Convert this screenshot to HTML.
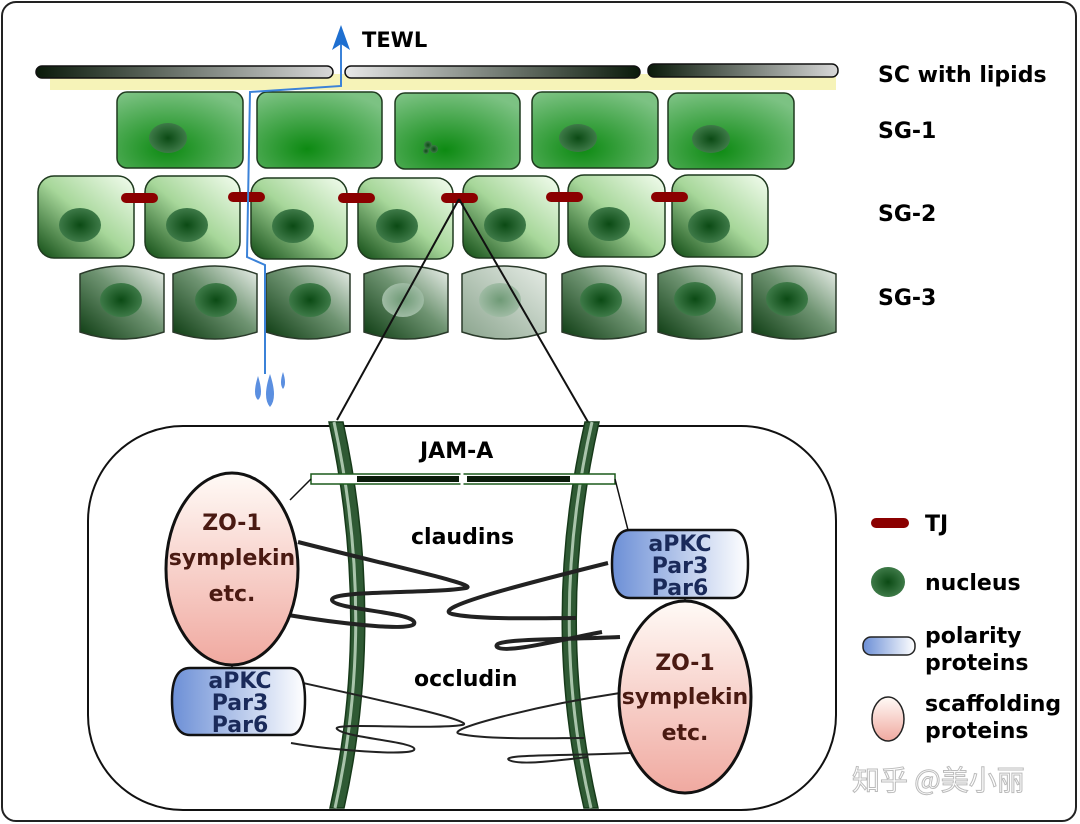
<!DOCTYPE html>
<html><head><meta charset="utf-8"><style>
html,body{margin:0;padding:0;background:#fff;}
svg{display:block;}
text{font-family:"DejaVu Sans","Liberation Sans",sans-serif;font-weight:bold;}
</style></head><body>
<svg width="1080" height="824" viewBox="0 0 1080 824" xmlns="http://www.w3.org/2000/svg">
<defs>
<linearGradient id="sc1" x1="0" x2="1"><stop offset="0" stop-color="#0a1a0a"/><stop offset="1" stop-color="#d8d8d8"/></linearGradient>
<linearGradient id="sc2" x1="0" x2="1"><stop offset="0" stop-color="#e8e8e8"/><stop offset="1" stop-color="#0a1a0a"/></linearGradient>
<radialGradient id="g1" cx="0.4" cy="0.75" r="0.8"><stop offset="0" stop-color="#0d8a12"/><stop offset="1" stop-color="#7cc283"/></radialGradient>
<linearGradient id="g2" x1="0" y1="1" x2="1" y2="0"><stop offset="0" stop-color="#0e4a12"/><stop offset="0.5" stop-color="#a7d79a"/><stop offset="1" stop-color="#f4fdf0"/></linearGradient>
<linearGradient id="g3" x1="0" y1="1" x2="1" y2="0"><stop offset="0" stop-color="#0b3a10"/><stop offset="0.55" stop-color="#6f9472"/><stop offset="1" stop-color="#eef2ee"/></linearGradient>
<linearGradient id="g3f" x1="0" y1="1" x2="1" y2="0"><stop offset="0" stop-color="#8aa48d"/><stop offset="1" stop-color="#e6ece6"/></linearGradient>
<radialGradient id="nuc"><stop offset="0" stop-color="#0b4a14"/><stop offset="1" stop-color="#3e7a48"/></radialGradient>
<radialGradient id="nucf"><stop offset="0" stop-color="#6f9a76"/><stop offset="1" stop-color="#9fbba4"/></radialGradient>
<linearGradient id="pol" x1="0" x2="1"><stop offset="0" stop-color="#6c8fd6"/><stop offset="1" stop-color="#ffffff"/></linearGradient>
<linearGradient id="scf" x1="0" y1="0" x2="0" y2="1"><stop offset="0" stop-color="#fffaf6"/><stop offset="1" stop-color="#f0a9a0"/></linearGradient>
</defs>
<rect x="2" y="2" width="1074" height="819" rx="14" fill="#fff" stroke="#222" stroke-width="2"/>

<!-- SC -->
<rect x="50" y="74" width="786" height="16" fill="#f6f3b8"/>
<rect x="36" y="66" width="297" height="12" rx="6" fill="url(#sc1)" stroke="#111" stroke-width="1.5"/>
<rect x="345" y="66" width="295" height="12" rx="6" fill="url(#sc2)" stroke="#111" stroke-width="1.5"/>
<rect x="648" y="64" width="190" height="13" rx="6" fill="url(#sc1)" stroke="#111" stroke-width="1.5"/>

<!-- SG-1 -->
<g stroke="#1f3a1f" stroke-width="1.5" fill="url(#g1)">
<rect x="117" y="92" width="126" height="76" rx="10"/>
<rect x="257" y="92" width="125" height="76" rx="10"/>
<rect x="395" y="93" width="125" height="76" rx="10"/>
<rect x="532" y="92" width="126" height="76" rx="10"/>
<rect x="668" y="93" width="126" height="76" rx="10"/>
</g>
<g fill="url(#nuc)">
<ellipse cx="168" cy="138" rx="19" ry="15"/>
<ellipse cx="578" cy="138" rx="19" ry="14"/>
<ellipse cx="711" cy="139" rx="19" ry="14"/>
<circle cx="428" cy="145" r="4"/><circle cx="434" cy="149" r="4"/><circle cx="426" cy="151" r="3"/>
</g>

<!-- SG-2 -->
<g stroke="#1f3a1f" stroke-width="1.5" fill="url(#g2)">
<rect x="38" y="176" width="96" height="82" rx="16"/>
<rect x="145" y="176" width="95" height="82" rx="16"/>
<rect x="251" y="178" width="96" height="81" rx="16"/>
<rect x="358" y="178" width="95" height="81" rx="16"/>
<rect x="463" y="176" width="96" height="82" rx="16"/>
<rect x="568" y="175" width="97" height="82" rx="16"/>
<rect x="672" y="175" width="96" height="82" rx="16"/>
</g>
<g fill="url(#nuc)">
<ellipse cx="80" cy="225" rx="21" ry="17"/><ellipse cx="187" cy="225" rx="21" ry="17"/>
<ellipse cx="293" cy="226" rx="21" ry="17"/><ellipse cx="397" cy="226" rx="21" ry="17"/>
<ellipse cx="505" cy="225" rx="21" ry="17"/><ellipse cx="609" cy="224" rx="21" ry="17"/>
<ellipse cx="709" cy="226" rx="21" ry="17"/>
</g>
<g stroke="#8b0000" stroke-width="10" stroke-linecap="round">
<line x1="126" y1="198" x2="153" y2="198"/><line x1="233" y1="197" x2="260" y2="197"/>
<line x1="343" y1="198" x2="370" y2="198"/><line x1="446" y1="198" x2="473" y2="198"/>
<line x1="551" y1="197" x2="578" y2="197"/><line x1="656" y1="197" x2="683" y2="197"/>
</g>

<!-- SG-3 -->
<g stroke="#2a3a2a" stroke-width="1.5">
<path d="M80 274 Q122 258 164 274 L164 332 Q122 346 80 332 Z" fill="url(#g3)"/>
<path d="M173 274 Q215 258 257 274 L257 332 Q215 346 173 332 Z" fill="url(#g3)"/>
<path d="M266 274 Q308 258 350 274 L350 332 Q308 346 266 332 Z" fill="url(#g3)"/>
<path d="M364 274 Q406 258 448 274 L448 332 Q406 346 364 332 Z" fill="url(#g3)"/>
<path d="M462 274 Q504 258 546 274 L546 332 Q504 346 462 332 Z" fill="url(#g3f)"/>
<path d="M562 274 Q604 258 646 274 L646 332 Q604 346 562 332 Z" fill="url(#g3)"/>
<path d="M658 274 Q700 258 742 274 L742 332 Q700 346 658 332 Z" fill="url(#g3)"/>
<path d="M752 274 Q794 258 836 274 L836 332 Q794 346 752 332 Z" fill="url(#g3)"/>
</g>
<g fill="url(#nuc)">
<ellipse cx="121" cy="300" rx="21" ry="17"/><ellipse cx="216" cy="300" rx="21" ry="17"/>
<ellipse cx="310" cy="300" rx="21" ry="17"/><ellipse cx="601" cy="300" rx="21" ry="17"/>
<ellipse cx="695" cy="299" rx="21" ry="17"/><ellipse cx="787" cy="299" rx="21" ry="17"/>
</g>
<ellipse cx="403" cy="300" rx="21" ry="17" fill="url(#nucf)"/>
<ellipse cx="500" cy="300" rx="21" ry="17" fill="url(#nucf)"/>

<!-- zoom lines -->
<line x1="459" y1="199" x2="337" y2="420" stroke="#111" stroke-width="2"/>
<line x1="459" y1="199" x2="588" y2="422" stroke="#111" stroke-width="2"/>

<!-- TEWL path -->
<polyline points="265,374 265,265 247,257 250,92 341,86 341,44" fill="none" stroke="#3b82d8" stroke-width="2"/>
<polygon points="341,25 332,50 341,44 350,50" fill="#1e6fd0"/>
<g fill="#5b8fe0">
<path d="M258 376 Q264 395 258 400 Q252 395 258 376Z"/>
<path d="M270 374 Q278 398 270 407 Q262 398 270 374Z"/>
<path d="M283 372 Q287 384 283 389 Q279 384 283 372Z"/>
</g>
<text x="362" y="47" font-size="21">TEWL</text>

<!-- right labels -->
<text x="878" y="82" font-size="22">SC with lipids</text>
<text x="878" y="138" font-size="22">SG-1</text>
<text x="878" y="221" font-size="22">SG-2</text>
<text x="878" y="305" font-size="22">SG-3</text>

<!-- bottom cell -->
<rect x="88" y="426" width="748" height="384" rx="95" fill="#fff" stroke="#111" stroke-width="2"/>

<!-- membranes -->
<path d="M329 422 Q372 620 330 808 L344 808 Q386 620 343 422 Z" fill="#2f5a34" stroke="#173a1a" stroke-width="1.5"/>
<path d="M334 422 Q377 620 335 808" fill="none" stroke="#a9c4ab" stroke-width="3"/>
<path d="M585 422 Q540 620 584 808 L598 808 Q554 620 599 422 Z" fill="#2f5a34" stroke="#173a1a" stroke-width="1.5"/>
<path d="M592 422 Q547 620 591 808" fill="none" stroke="#a9c4ab" stroke-width="3"/>

<!-- JAM-A -->
<rect x="311" y="474" width="304" height="10" fill="#fff" stroke="#1c5a1c" stroke-width="1.5"/>
<rect x="357" y="476" width="102" height="6" fill="#0a1a0a"/>
<rect x="467" y="476" width="103" height="6" fill="#0a1a0a"/>
<line x1="462" y1="472" x2="462" y2="486" stroke="#fff" stroke-width="3"/>
<text x="420" y="458" font-size="22">JAM-A</text>
<text x="411" y="544" font-size="22">claudins</text>
<text x="414" y="686" font-size="22">occludin</text>

<!-- claudin/occludin loops -->
<g fill="none" stroke="#222" stroke-width="4">
<path d="M298 542 C400 568 480 585 466 588 C430 594 330 590 332 600 C334 610 420 612 414 624 C408 632 330 622 288 615"/>
<path d="M608 563 C520 585 430 608 452 614 C480 620 540 618 576 618"/>
<path d="M620 637 C560 640 490 638 497 647 C505 654 560 640 602 632"/>
</g>
<g fill="none" stroke="#222" stroke-width="2">
<path d="M303 683 C380 700 480 722 462 725 C430 730 330 722 337 729 C345 738 420 742 414 750 C408 756 330 750 291 743"/>
<path d="M620 693 C540 705 440 730 460 734 C490 740 550 738 584 738"/>
<path d="M630 753 C570 756 500 754 509 760 C520 766 560 760 588 757"/>
</g>

<!-- connectors -->
<g stroke="#111" stroke-width="1.5">
<line x1="311" y1="479" x2="290" y2="500"/>
<line x1="615" y1="479" x2="628" y2="530"/>
<line x1="232" y1="660" x2="232" y2="668"/>
<line x1="685" y1="598" x2="685" y2="612"/>
</g>

<!-- scaffold ellipses -->
<ellipse cx="232" cy="569" rx="66" ry="96" fill="url(#scf)" stroke="#111" stroke-width="3"/>
<ellipse cx="685" cy="697" rx="66" ry="96" fill="url(#scf)" stroke="#111" stroke-width="3"/>
<g fill="#4a1a12" font-size="22" text-anchor="middle">
<text x="232" y="530">ZO-1</text><text x="232" y="565">symplekin</text><text x="232" y="601">etc.</text>
<text x="685" y="670">ZO-1</text><text x="685" y="704">symplekin</text><text x="685" y="740">etc.</text>
</g>

<!-- polarity boxes -->
<path d="M190 668 L290 668 Q305 668 305 700 Q305 735 290 735 L190 735 Q172 735 172 700 Q172 668 190 668Z" fill="url(#pol)" stroke="#111" stroke-width="2.5"/>
<path d="M630 530 L732 530 Q748 530 748 564 Q748 598 732 598 L630 598 Q612 598 612 564 Q612 530 630 530Z" fill="url(#pol)" stroke="#111" stroke-width="2.5"/>
<g fill="#1a2a5a" font-size="22" text-anchor="middle">
<text x="240" y="688">aPKC</text><text x="240" y="710">Par3</text><text x="240" y="732">Par6</text>
<text x="680" y="551">aPKC</text><text x="680" y="573">Par3</text><text x="680" y="595">Par6</text>
</g>

<!-- legend -->
<line x1="876" y1="523" x2="904" y2="523" stroke="#8b0000" stroke-width="10" stroke-linecap="round"/>
<ellipse cx="888" cy="582" rx="17" ry="15" fill="url(#nuc)"/>
<rect x="863" y="637" width="52" height="18" rx="8" fill="url(#pol)" stroke="#222" stroke-width="1.5"/>
<ellipse cx="888" cy="719" rx="16" ry="22" fill="url(#scf)" stroke="#222" stroke-width="1.5"/>
<g font-size="22">
<text x="925" y="531">TJ</text>
<text x="925" y="590">nucleus</text>
<text x="925" y="643">polarity</text><text x="925" y="670">proteins</text>
<text x="925" y="711">scaffolding</text><text x="925" y="738">proteins</text>
</g>
<text x="852" y="790" font-size="28" fill="#fff" stroke="#bbb" stroke-width="1" style="font-family:'Noto Sans CJK SC',sans-serif;font-weight:normal">知乎 @美小丽</text>
</svg>
</body></html>
